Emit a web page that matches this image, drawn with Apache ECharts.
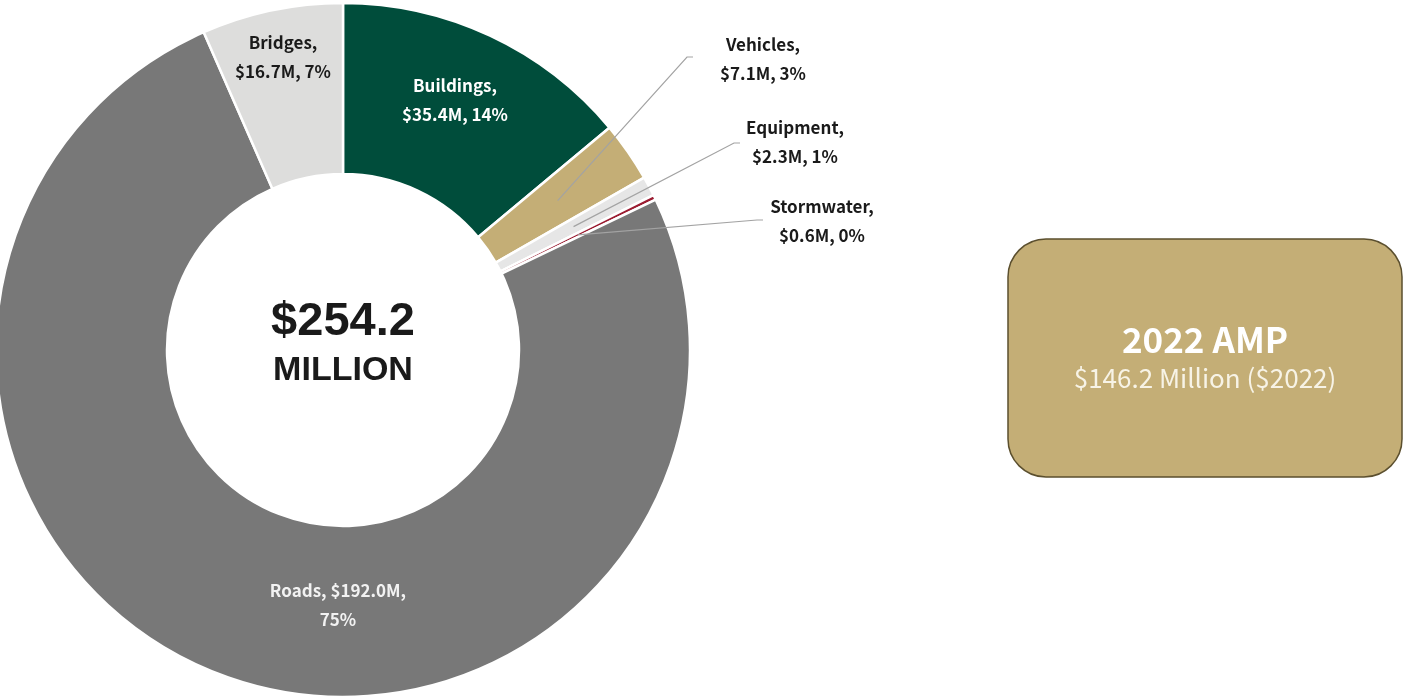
<!DOCTYPE html>
<html>
<head>
<meta charset="utf-8">
<script src="https://cdn.jsdelivr.net/npm/echarts@6/dist/echarts.min.js"></script>
<style>
  html, body { margin: 0; padding: 0; background: #fff; }
  #chart { width: 1404px; height: 699px; }
</style>
</head>
<body>
<div id="chart"></div>
<script>
// data
const categories = ["Buildings", "Vehicles", "Equipment", "Stormwater", "Roads", "Bridges"];
const values = [35.4, 7.1, 2.3, 0.6, 192.0, 16.7];
const percents = [14, 3, 1, 0, 75, 7];
const totalText = ["$254.2", "MILLION"];
const ampText = ["2022 AMP", "$146.2 Million ($2022)"];

// styling
const colors = ["#004d3b", "#c4ae76", "#e6e6e6", "#9b1c31", "#787878", "#dddddc"];
const insideLabel = [true, false, false, false, true, true];
const labelColors = ["#ffffff", "#1a1a1a", "#1a1a1a", "#1a1a1a", "#f2f2f2", "#1a1a1a"];
const labelPos = [[455, 100], [763, 59], [795, 142], [822, 221], [338, 605], [283, 57]];
const guideEnds = [null, [693, 57], [740, 143], [763, 220], null, null];

const CX = 343, CY = 350, R0 = 176, R1 = 347;
const labelFont = "'Noto Sans CJK JP', 'Noto Sans', sans-serif";

const myChart = echarts.init(document.getElementById("chart"));

// leader lines start half way into the ring, at the middle angle of the slice
const total = values.reduce(function (a, b) { return a + b; }, 0);
let cum = 0;
const leaderLines = [];
values.forEach(function (v, i) {
  const mid = (90 - (cum + v / 2) / total * 360) * Math.PI / 180;
  cum += v;
  if (insideLabel[i]) return;
  const rm = (R0 + R1) / 2;
  const s = [CX + rm * Math.cos(mid), CY - rm * Math.sin(mid)];
  const g = guideEnds[i];
  leaderLines.push({
    type: "polyline",
    z: 100,
    shape: { points: [s, [g[0] - 6, g[1]], g] },
    style: { stroke: "#a3a3a3", lineWidth: 1.2, fill: null }
  });
});

let option = {
  animation: false,
  graphic: [
    {
      type: "text",
      x: CX, y: 322,
      style: {
        text: totalText[0], textAlign: "center", textVerticalAlign: "middle",
        font: "bold 47px 'Liberation Sans', Arial, sans-serif", fill: "#1a1a1a"
      }
    },
    {
      type: "text",
      x: CX, y: 371,
      style: {
        text: totalText[1], textAlign: "center", textVerticalAlign: "middle",
        font: "bold 34px 'Liberation Sans', Arial, sans-serif", fill: "#1a1a1a"
      }
    },
    {
      type: "rect",
      shape: { x: 1008, y: 239, width: 394, height: 238, r: 38 },
      style: { fill: "#c4ae76", stroke: "#5b4f2e", lineWidth: 1.5 }
    },
    {
      type: "text",
      x: 1205, y: 340,
      style: {
        text: ampText[0], textAlign: "center", textVerticalAlign: "middle",
        font: "bold 35px " + labelFont, fill: "#ffffff"
      }
    },
    {
      type: "text",
      x: 1205, y: 378,
      style: {
        text: ampText[1], textAlign: "center", textVerticalAlign: "middle",
        font: "26px " + labelFont, fill: "#f7f3e6"
      }
    }
  ].concat(leaderLines),
  series: [
    {
      type: "pie",
      center: [CX, CY],
      radius: [R0, R1],
      startAngle: 90,
      clockwise: true,
      avoidLabelOverlap: false,
      itemStyle: { borderColor: "#ffffff", borderWidth: 2.5 },
      label: {
        show: true,
        position: "inside",
        fontFamily: labelFont,
        fontWeight: "bold",
        fontSize: 17,
        lineHeight: 29,
        align: "center",
        color: "#1a1a1a",
        formatter: function (p) {
          const i = p.dataIndex;
          const amt = "$" + values[i].toFixed(1) + "M";
          if (categories[i] === "Roads") {
            return categories[i] + ", " + amt + ",\n" + percents[i] + "%";
          }
          return categories[i] + ",\n" + amt + ", " + percents[i] + "%";
        }
      },
      labelLine: { show: false },
      labelLayout: function (p) {
        const i = p.dataIndex;
        return { x: labelPos[i][0], y: labelPos[i][1], align: "center", verticalAlign: "middle" };
      },
      data: categories.map(function (name, i) {
        return {
          name: name,
          value: values[i],
          itemStyle: { color: colors[i] },
          label: { color: labelColors[i] }
        };
      })
    }
  ]
};

myChart.setOption(option);
window.addEventListener("resize", function () { myChart.resize(); });
</script>
</body>
</html>
